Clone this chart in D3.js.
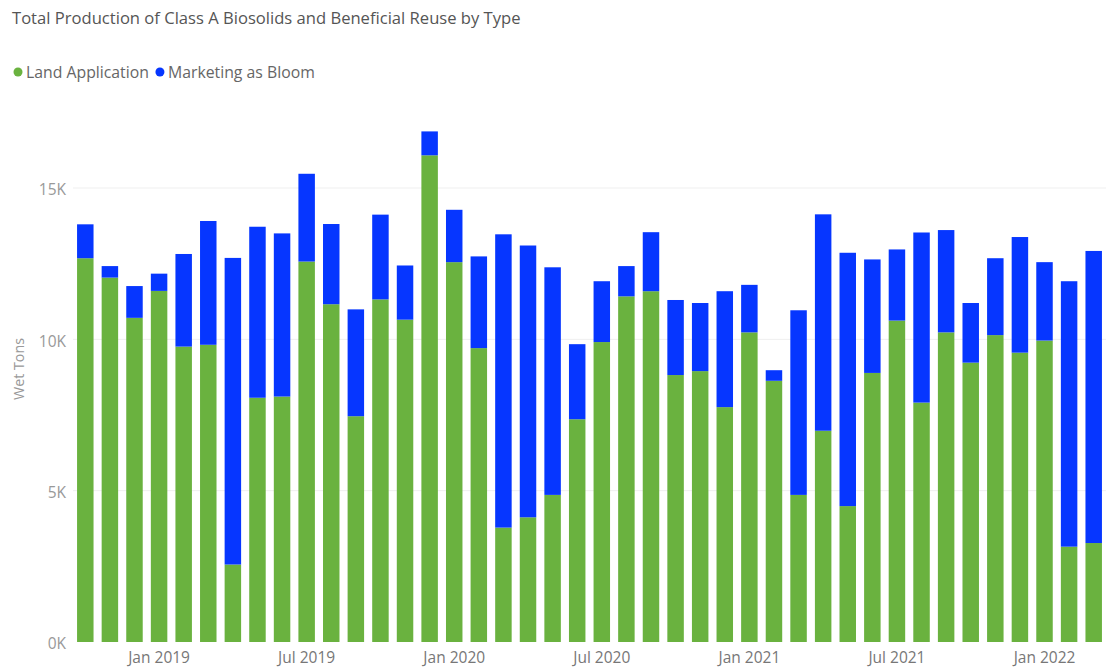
<!DOCTYPE html>
<html>
<head>
<meta charset="utf-8">
<script src="https://cdn.jsdelivr.net/npm/d3@7/dist/d3.min.js"></script>
<style>
  html, body { margin: 0; padding: 0; background: #fff; }
  svg { display: block; font-family: "Open Sans", "Noto Sans", sans-serif; }
</style>
</head>
<body>
<svg id="chart" width="1106" height="668"></svg>
<script>
// Monthly production, Oct 2018 – Mar 2022 (wet tons)
const months = [
  "2018-10","2018-11","2018-12","2019-01","2019-02","2019-03","2019-04","2019-05","2019-06",
  "2019-07","2019-08","2019-09","2019-10","2019-11","2019-12","2020-01","2020-02","2020-03",
  "2020-04","2020-05","2020-06","2020-07","2020-08","2020-09","2020-10","2020-11","2020-12",
  "2021-01","2021-02","2021-03","2021-04","2021-05","2021-06","2021-07","2021-08","2021-09",
  "2021-10","2021-11","2021-12","2022-01","2022-02","2022-03"
];
const landApplication = [
  12680, 12040, 10710, 11600, 9760, 9820, 2560, 8070, 8110,
  12570, 11160, 7460, 11320, 10650, 16080, 12550, 9710, 3780,
  4120, 4860, 7360, 9910, 11420, 11590, 8820, 8950, 7760,
  10230, 8630, 4860, 6980, 4490, 8890, 10620, 7910, 10230,
  9230, 10140, 9560, 9960, 3150, 3270
];
const marketingAsBloom = [
  1120, 380, 1050, 570, 3060, 4090, 10130, 5650, 5390,
  2900, 2650, 3530, 2800, 1790, 790, 1730, 3030, 9690,
  8980, 7520, 2480, 2010, 1000, 1950, 2480, 2250, 3830,
  1570, 350, 6100, 7150, 8370, 3750, 2350, 5620, 3380,
  1970, 2540, 3820, 2590, 8770, 9650
];
const seriesNames = ["Land Application", "Marketing as Bloom"];
const seriesColors = ["#6ab23f", "#0636ff"];
const yTickValues = [0, 5000, 10000, 15000];
const xTickMonths = ["2019-01","2019-07","2020-01","2020-07","2021-01","2021-07","2022-01"];

const svg = d3.select("#chart");
const plot = { left: 73, right: 1106, top: 188, bottom: 642 };

const rows = months.map((m, i) => ({
  month: m,
  [seriesNames[0]]: landApplication[i],
  [seriesNames[1]]: marketingAsBloom[i]
}));

const x = d3.scaleBand()
  .domain(months)
  .range([plot.left, plot.right])
  .paddingInner(0.33)
  .paddingOuter(0.165);

const y = d3.scaleLinear()
  .domain([0, 15000])
  .range([plot.bottom, plot.top]);

// Title
svg.append("text")
  .attr("x", 12).attr("y", 24)
  .attr("font-size", 16.6)
  .attr("fill", "#555")
  .text("Total Production of Class A Biosolids and Beneficial Reuse by Type");

// Legend
const legend = svg.append("g");
let lx = 18;
seriesNames.forEach((name, i) => {
  legend.append("circle")
    .attr("cx", lx).attr("cy", 72).attr("r", 4.5)
    .attr("fill", seriesColors[i]);
  const t = legend.append("text")
    .attr("x", lx + 8).attr("y", 77.5)
    .attr("font-size", 15.8)
    .attr("fill", "#666")
    .text(name);
  lx += 8 + t.node().getComputedTextLength() + 11;
});

// Gridlines
svg.append("g")
  .selectAll("line")
  .data(yTickValues.filter(d => d > 0))
  .join("line")
  .attr("x1", plot.left).attr("x2", plot.right)
  .attr("y1", d => y(d)).attr("y2", d => y(d))
  .attr("stroke", "#efefef")
  .attr("stroke-width", 1);

// Y axis
const yAxis = svg.append("g")
  .attr("transform", `translate(${plot.left - 7},2)`)
  .call(d3.axisLeft(y).tickValues(yTickValues).tickSize(0).tickPadding(0)
    .tickFormat(d => (d / 1000) + "K"));
yAxis.select(".domain").remove();
yAxis.selectAll("text")
  .attr("font-size", 15.5)
  .attr("fill", "#999")
  .attr("font-family", "\"Open Sans\", sans-serif");

svg.append("text")
  .attr("transform", "translate(24, 369) rotate(-90)")
  .attr("text-anchor", "middle")
  .attr("font-size", 14.3)
  .attr("fill", "#999")
  .text("Wet Tons");

// Stacked bars
const stack = d3.stack().keys(seriesNames)(rows);
svg.append("g")
  .selectAll("g")
  .data(stack)
  .join("g")
  .attr("fill", (d, i) => seriesColors[i])
  .selectAll("rect")
  .data(d => d)
  .join("rect")
  .attr("x", d => x(d.data.month))
  .attr("width", x.bandwidth())
  .attr("y", d => y(d[1]))
  .attr("height", d => y(d[0]) - y(d[1]));

// X axis
const monthNames = ["Jan","Feb","Mar","Apr","May","Jun","Jul","Aug","Sep","Oct","Nov","Dec"];
const xAxis = svg.append("g")
  .attr("transform", `translate(0,${plot.bottom + 9})`)
  .call(d3.axisBottom(x).tickValues(xTickMonths).tickSize(0).tickPadding(0)
    .tickFormat(m => monthNames[+m.slice(5) - 1] + " " + m.slice(0, 4)));
xAxis.select(".domain").remove();
xAxis.selectAll("text")
  .attr("font-size", 15.5)
  .attr("fill", "#777")
  .attr("font-family", "\"Open Sans\", sans-serif")
  .attr("dy", "0.8em");
</script>
</body>
</html>
